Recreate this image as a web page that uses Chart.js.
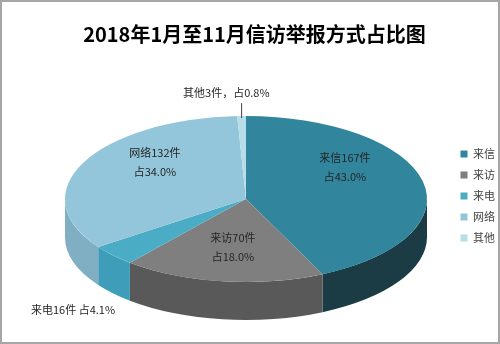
<!DOCTYPE html>
<html>
<head>
<meta charset="utf-8">
<script src="https://cdn.jsdelivr.net/npm/chart.js@4.4.1/dist/chart.umd.min.js"></script>
<style>
    html, body { margin: 0; padding: 0; background: #fff; }
    #wrap { width: 500px; height: 344px; }
</style>
</head>
<body>
<div id="wrap"><canvas id="myChart" width="500" height="344"></canvas></div>
<script>
var categories = ['来信', '来访', '来电', '网络', '其他'];
var counts = [167, 70, 16, 132, 3];
// text between "N件" and "占x%" in each label ('\n' = two lines inside the slice)
var labelSeps = ['\n', '\n', ' ', '\n', '，'];

var topColors = ['#31859c', '#7f7f7f', '#4bacc6', '#93c6da', '#b7dde8'];
var sideColors = ['#1b3b45', '#595959', '#3e9db8', '#80afc4', '#9fc6d1'];

var FONT = '"Noto Sans CJK SC", "Liberation Sans", sans-serif';
var total = counts.reduce(function (a, b) { return a + b; }, 0);

// frame around the whole chart
var frame = {
    id: 'frame',
    afterDraw: function (chart) {
        var ctx = chart.ctx;
        ctx.save();
        ctx.strokeStyle = '#a6a6a6';
        ctx.lineWidth = 2;
        ctx.strokeRect(1, 1, chart.width - 2, chart.height - 2);
        ctx.restore();
    }
};

// tilts the pie into an ellipse and adds the rim below it
var pie3d = {
    id: 'pie3d',
    beforeDatasetsDraw: function (chart, args, opts) {
        var ctx = chart.ctx;
        var k = opts.ry / opts.rx;
        var arcs = chart.getDatasetMeta(0).data;
        arcs.forEach(function (arc, i) {
            arc.x = opts.cx;
            arc.y = opts.cy / k;
            arc.outerRadius = opts.rx;
            arc.innerRadius = 0;
            // only the front half of the rim is visible
            var a1 = Math.max(arc.startAngle, 0);
            var a2 = Math.min(arc.endAngle, Math.PI);
            if (a2 <= a1) return;
            ctx.beginPath();
            ctx.ellipse(opts.cx, opts.cy, opts.rx, opts.ry, 0, a1, a2, false);
            ctx.lineTo(opts.cx + opts.rx * Math.cos(a2), opts.cy + opts.ry * Math.sin(a2) + opts.depth);
            ctx.ellipse(opts.cx, opts.cy + opts.depth, opts.rx, opts.ry, 0, a2, a1, true);
            ctx.closePath();
            ctx.fillStyle = sideColors[i];
            ctx.fill();
        });
        ctx.save();
        ctx.scale(1, k);
    },
    afterDatasetsDraw: function (chart, args, opts) {
        var ctx = chart.ctx;
        ctx.restore();
        var arcs = chart.getDatasetMeta(0).data;
        ctx.save();
        ctx.font = '11px ' + FONT;
        ctx.fillStyle = '#262626';
        ctx.textAlign = 'center';
        ctx.textBaseline = 'middle';
        arcs.forEach(function (arc, i) {
            var mid = (arc.startAngle + arc.endAngle) / 2;
            var c = Math.cos(mid), s = Math.sin(mid);
            var share = counts[i] / total * 100;
            var head = categories[i] + counts[i] + '件';
            var tail = '占' + share.toFixed(1) + '%';
            if (share < 5) {
                var x = opts.cx + c * opts.rx * 1.3;
                var y = opts.cy + s * opts.ry * 1.3 + (s > 0 ? opts.depth : 0);
                // labels above the pie sit a little left of their leader line
                var tx = s < 0 ? x - 14 : x;
                ctx.fillText(head + labelSeps[i] + tail, tx, y + (s < 0 ? 2 : 0));
                if (s < 0) {
                    var ex = opts.cx + c * opts.rx;
                    ctx.beginPath();
                    ctx.moveTo(ex, opts.cy + s * opts.ry + 2);
                    ctx.lineTo(ex, y + 12);
                    ctx.strokeStyle = '#404040';
                    ctx.lineWidth = 1;
                    ctx.stroke();
                }
            } else {
                var lx = opts.cx + c * opts.rx * 0.56;
                var ly = opts.cy + s * opts.ry * 0.72 - 11 + (s < 0 && c > 0 ? -8 : 0);
                ctx.fillText(head, lx, ly - 9.5);
                ctx.fillText(tail, lx, ly + 9.5);
            }
        });
        ctx.restore();
    }
};

var ctx = document.getElementById('myChart').getContext('2d');
var myPieChart = new Chart(ctx, {
    type: 'pie',
    data: {
        labels: categories,
        datasets: [{
            data: counts,
            backgroundColor: topColors,
            borderWidth: 0,
            clip: false
        }]
    },
    options: {
        responsive: false,
        animation: false,
        events: [],
        layout: { padding: { left: 4, right: -5, bottom: -48 } },
        plugins: {
            title: {
                display: true,
                text: '2018年1月至11月信访举报方式占比图',
                color: '#000',
                font: { size: 20, weight: 'bold', family: FONT },
                padding: { top: 22, bottom: 10 }
            },
            legend: {
                position: 'right',
                labels: {
                    boxWidth: 7,
                    boxHeight: 7,
                    padding: 10,
                    color: '#404040',
                    font: { size: 11, family: FONT }
                }
            },
            tooltip: { enabled: false },
            pie3d: { cx: 246, cy: 199, rx: 181, ry: 83, depth: 38 }
        }
    },
    plugins: [pie3d, frame]
});
</script>
</body>
</html>
